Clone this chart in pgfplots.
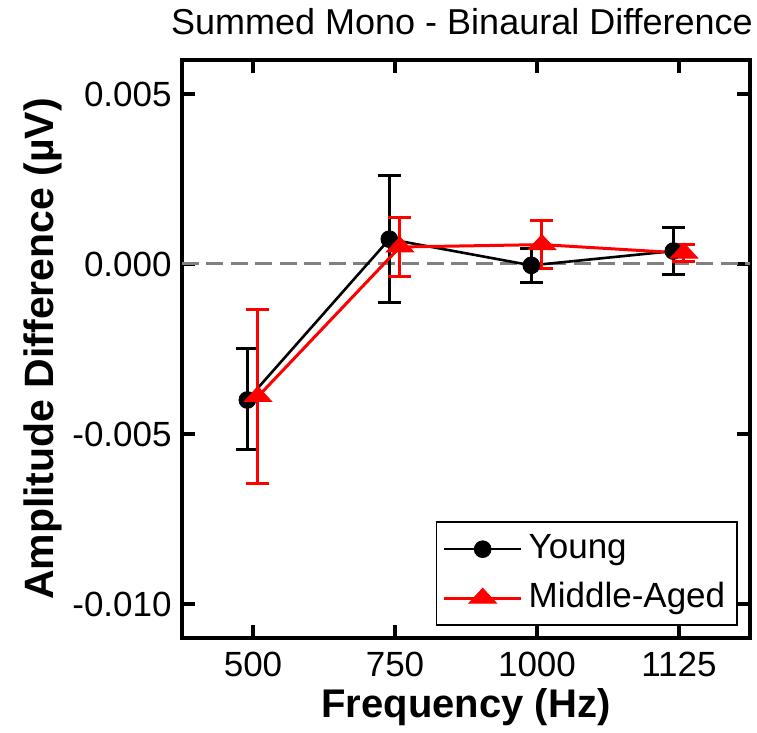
\documentclass[border=0pt]{standalone}
\usepackage{fontspec}
\setmainfont{Liberation Sans}
\usepackage{pgfplots}
\pgfplotsset{compat=1.18}
\usepackage{pgfplotstable}

\pgfplotstableread{
x y ep em
0.96 -0.0040 0.0015 0.00145
1.96 0.00073 0.00186 0.00186
2.96 -0.00004 0.0005 0.0005
3.96 0.00038 0.0007 0.0007
}\tabyoung
\pgfplotstableread{
x y ep em
1.035 -0.0039 0.00257 0.00255
2.035 0.0005 0.00086 0.00086
3.035 0.00057 0.0007 0.0007
4.035 0.00032 0.00026 0.00026
}\tabmid

\begin{document}
\begin{tikzpicture}
\begin{axis}[
  scale only axis, width=284pt, height=289pt,
  xmin=0.5, xmax=4.5, ymin=-0.011, ymax=0.006,
  axis line style={line width=1.6pt},
  every tick/.style={black, line width=1.6pt},
  tick align=inside, major tick length=6.5pt,
  xtick={1,2,3,4}, xticklabels={500,750,1000,1125},
  ytick={-0.01,-0.005,0,0.005}, yticklabels={-0.010,-0.005,0.000,0.005},
  scaled y ticks=false,
  ticklabel style={font=\fontsize{17.5}{21}\selectfont},
  xticklabel style={anchor=base, yshift=-19.5pt},
  yticklabel style={anchor=east, inner sep=0pt, xshift=-5pt},
  title={Summed Mono - Binaural Difference},
  every axis title/.style={font=\fontsize{18}{21}\selectfont, at={(axis description cs:0.5,1)}, anchor=base, yshift=12.5pt, xshift=-2pt},
  xlabel={Frequency (Hz)},
  every axis x label/.style={font=\bfseries\fontsize{20}{24}\selectfont, at={(axis description cs:0.5,0)}, anchor=base, yshift=-40pt},
  ylabel={Amplitude Difference (µV)},
  every axis y label/.style={font=\bfseries\fontsize{20.5}{24}\selectfont, at={(axis description cs:-0.2271,0.5)}, rotate=90, anchor=base},
  legend style={at={(1,0)}, anchor=south east, xshift=-6pt, yshift=6pt, draw=black, line width=0.8pt,
    inner xsep=3pt, inner ysep=1.25pt, font=\fontsize{17.5}{21}\selectfont,
    nodes={inner xsep=3pt, inner ysep=3.75pt, text height=13pt, text depth=4pt}, row sep=0pt},
  legend cell align=left,
  legend image code/.code={\draw[mark repeat=2, mark phase=2, #1] plot coordinates {(0pt,0pt) (19.25pt,0pt) (38.5pt,0pt)};},
]
\coordinate (bl) at (rel axis cs:0,0);
\addplot[color=black!50, line width=1.5pt, dash pattern=on 8.5pt off 3.75pt, forget plot] coordinates {(0.5,0) (4.5,0)};

\addplot[black, line width=1.3pt, mark=*, mark size=4.2pt, mark options={solid, line width=0.4pt},
  error bars/.cd, y dir=both, y explicit,
  error bar style={line width=1.5pt, black},
  error mark options={rotate=90, mark size=5.75pt, line width=1.5pt, black}]
  table[x=x, y=y, y error plus=ep, y error minus=em] {\tabyoung};
\addlegendentry{Young}

\addplot[red, line width=1.5pt, mark=triangle*, mark size=5pt, mark options={solid, xscale=1.6, line width=0.4pt},
  error bars/.cd, y dir=both, y explicit,
  error bar style={line width=1.5pt, red},
  error mark options={rotate=90, mark size=5.75pt, line width=1.5pt, red}]
  table[x=x, y=y, y error plus=ep, y error minus=em] {\tabmid};
\addlegendentry{Middle-Aged}
\end{axis}
\pgfresetboundingbox
\path (bl) ++(-91pt,-47.5pt) rectangle ++(378.5pt,366.5pt);
\end{tikzpicture}
\end{document}
